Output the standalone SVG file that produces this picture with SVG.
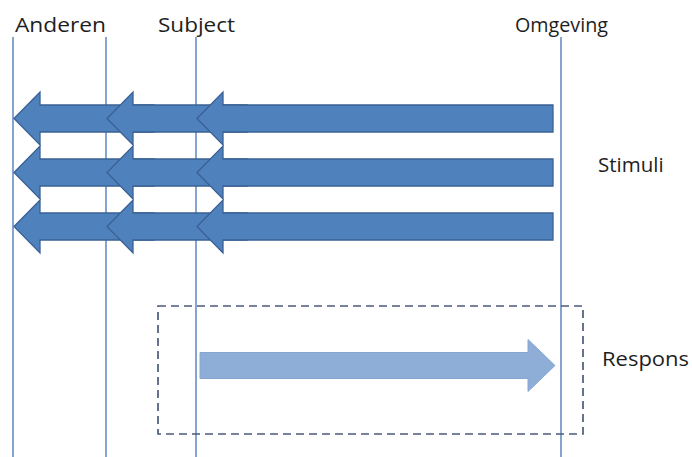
<svg xmlns="http://www.w3.org/2000/svg" xmlns:xlink="http://www.w3.org/1999/xlink" width="692" height="457" viewBox="0 0 692 457">
  <style>
    .lane { stroke: #5B87C0; stroke-width: 1.5; fill: none; }
    .label { font-family: "Open Sans", "Liberation Sans", sans-serif; font-size: 20.5px; fill: #1E1E1E; }
    .stim { fill: #4F81BD; stroke: #3A6194; stroke-width: 1.3; stroke-linejoin: miter; }
    .resp { fill: #8EAED8; stroke: #86A6D2; stroke-width: 1; }
    .box { fill: none; stroke: #4A5B7B; stroke-width: 1.7; stroke-dasharray: 8 5; }
  </style>
  <defs>
    <!-- left-pointing block arrows, tip at (0,0) -->
    <path id="arrow-short" d="M0,0 L26,-26.5 L26,-13.5 L140,-13.5 L140,13.5 L26,13.5 L26,26.5 Z"/>
    <path id="arrow-long" d="M0,0 L26,-26.5 L26,-13.5 L356,-13.5 L356,13.5 L26,13.5 L26,26.5 Z"/>
  </defs>

  <rect width="692" height="457" fill="#FFFFFF"/>

  <!-- lanes -->
  <g id="lane-anderen">
    <line class="lane" x1="13" y1="37" x2="13" y2="457"/>
    <text class="label" x="15" y="32" textLength="91" lengthAdjust="spacingAndGlyphs">Anderen</text>
  </g>
  <g id="lane-anderen-edge">
    <line class="lane" x1="106" y1="37" x2="106" y2="457"/>
  </g>
  <g id="lane-subject">
    <line class="lane" x1="196" y1="37" x2="196" y2="457"/>
    <text class="label" x="158" y="32" textLength="77" lengthAdjust="spacingAndGlyphs">Subject</text>
  </g>
  <g id="lane-omgeving">
    <line class="lane" x1="561" y1="37" x2="561" y2="457"/>
    <text class="label" x="515" y="32" textLength="93" lengthAdjust="spacingAndGlyphs">Omgeving</text>
  </g>

  <!-- stimuli: three rows of chained arrows -->
  <g id="connectors">
    <g id="stimulus-1">
      <use href="#arrow-short" class="stim" transform="translate(14,118.5)"/>
      <use href="#arrow-short" class="stim" transform="translate(107,118.5)"/>
      <use href="#arrow-long" class="stim" transform="translate(197,118.5)"/>
    </g>
    <g id="stimulus-2">
      <use href="#arrow-short" class="stim" transform="translate(14,172.5)"/>
      <use href="#arrow-short" class="stim" transform="translate(107,172.5)"/>
      <use href="#arrow-long" class="stim" transform="translate(197,172.5)"/>
    </g>
    <g id="stimulus-3">
      <use href="#arrow-short" class="stim" transform="translate(14,226.5)"/>
      <use href="#arrow-short" class="stim" transform="translate(107,226.5)"/>
      <use href="#arrow-long" class="stim" transform="translate(197,226.5)"/>
    </g>
  </g>

  <g id="stimuli-label">
    <text class="label" x="598" y="172">Stimuli</text>
  </g>

  <!-- response -->
  <g id="respons">
    <rect class="box" x="158" y="306" width="425" height="128"/>
    <path class="resp" d="M200,352.5 L528,352.5 L528,339.5 L555,365.5 L528,391.5 L528,378.5 L200,378.5 Z"/>
    <text class="label" x="602" y="366" textLength="87" lengthAdjust="spacingAndGlyphs">Respons</text>
  </g>
</svg>
